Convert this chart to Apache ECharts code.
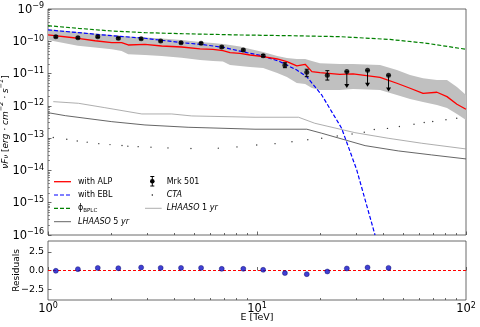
<!DOCTYPE html>
<html>
<head>
<meta charset="utf-8">
<script src="https://cdn.jsdelivr.net/npm/echarts@6/dist/echarts.min.js"></script>
<style>
  html, body { margin: 0; padding: 0; background: #fff; }
  #main { width: 480px; height: 327px; }
</style>
</head>
<body>
<div id="main"></div>
<script>
// Mrk 501 measured points [TeV, erg cm^-2 s^-1]
const mrkE  = [1.09, 1.39, 1.73, 2.17, 2.79, 3.46, 4.33, 5.40, 6.78, 8.60, 10.7, 13.6, 17.3, 21.7];
const mrkF  = [1.39e-10, 1.29e-10, 1.39e-10, 1.24e-10, 1.20e-10, 1.02e-10, 9.06e-11, 8.67e-11, 6.67e-11, 5.38e-11, 3.58e-11, 1.81e-11, 1.10e-11, 8.86e-12];
const mrkLo = [1.30e-10, 1.21e-10, 1.31e-10, 1.17e-10, 1.13e-10, 9.6e-11, 8.5e-11, 8.1e-11, 6.2e-11, 5.0e-11, 3.3e-11, 1.52e-11, 8.0e-12, 6.3e-12];
const mrkHi = [1.48e-10, 1.37e-10, 1.47e-10, 1.31e-10, 1.27e-10, 1.08e-10, 9.6e-11, 9.2e-11, 7.1e-11, 5.8e-11, 3.9e-11, 2.17e-11, 1.36e-11, 1.23e-11];
// upper limits
const ulE = [26.9, 33.8, 42.6];
const ulF = [1.15e-11, 1.26e-11, 8.86e-12];
// residuals, all 17 bins
const resid = [-0.04, 0.18, 0.35, 0.31, 0.40, 0.35, 0.35, 0.35, 0.22, 0.22, 0.09, -0.35, -0.49, -0.13, 0.27, 0.40, 0.35];

// with ALP model and its band
const alpE = [1.0, 1.39, 1.68, 2.02, 2.25, 2.42, 2.91, 3.50, 4.36, 5.34, 6.16, 6.87, 7.43, 8.29, 9.26, 10.7, 12.5, 13.9, 15.5, 17.0, 18.3, 20.0, 24.9, 28.8, 38.8, 46.7, 54.0, 62.3, 72.6, 81.1, 90.5, 100];
const alpF = [1.57e-10, 1.24e-10, 1.04e-10, 9.06e-11, 9.06e-11, 7.68e-11, 8.07e-11, 7.15e-11, 6.66e-11, 5.78e-11, 5.65e-11, 5.12e-11, 4.44e-11, 4.25e-11, 3.76e-11, 3.33e-11, 2.83e-11, 2.33e-11, 1.72e-11, 1.94e-11, 1.15e-11, 1.07e-11, 9.5e-12, 9.72e-12, 7.68e-12, 5.01e-12, 3.51e-12, 2.45e-12, 2.64e-12, 1.93e-12, 1.12e-12, 7.85e-13];
const bandUp = [2.36e-10, 1.94e-10, 1.74e-10, 1.57e-10, 1.46e-10, 1.41e-10, 1.31e-10, 1.22e-10, 1.10e-10, 9.5e-11, 8.85e-11, 8.24e-11, 7.68e-11, 6.9e-11, 5.78e-11, 4.67e-11, 3.51e-11, 3.04e-11, 2.83e-11, 2.83e-11, 2.45e-11, 2.08e-11, 1.98e-11, 1.98e-11, 1.85e-11, 1.29e-11, 9.05e-12, 7.15e-12, 6.34e-12, 6.34e-12, 3.85e-12, 2.17e-12];
const bandLo = [1.10e-10, 7.31e-11, 6.43e-11, 5.65e-11, 5.01e-11, 3.96e-11, 3.77e-11, 3.51e-11, 3.11e-11, 2.64e-11, 2.45e-11, 2.37e-11, 1.85e-11, 1.72e-11, 1.60e-11, 1.49e-11, 1.04e-11, 7.85e-12, 5.12e-12, 4.77e-12, 3.58e-12, 3.10e-12, 3.10e-12, 3.33e-12, 3.10e-12, 2.17e-12, 1.64e-12, 1.32e-12, 1.07e-12, 8.61e-13, 5.61e-13, 3.66e-13];

// with EBL
const eblE = [1.0, 1.40, 2.02, 2.91, 4.36, 5.34, 6.87, 8.96, 10.7, 12.9, 15.5, 17.3, 20.4, 25.4, 30.0, 36.7];
const eblF = [2.25e-10, 1.85e-10, 1.49e-10, 1.24e-10, 9.06e-11, 8.07e-11, 6.52e-11, 4.44e-11, 3.51e-11, 2.33e-11, 1.29e-11, 8.02e-12, 2.17e-12, 2.03e-13, 1.04e-14, 1e-16];

// phi BPLC
const bplcE = [1.0, 1.40, 2.02, 2.91, 4.36, 8.29, 14.4, 24.9, 43.3, 64.9, 100];
const bplcF = [3.04e-10, 2.52e-10, 2.08e-10, 1.85e-10, 1.72e-10, 1.57e-10, 1.49e-10, 1.39e-10, 1.14e-10, 8.67e-11, 5.65e-11];

// LHAASO sensitivities
const lh1E = [1.06, 1.40, 1.87, 2.81, 3.91, 4.87, 9.78, 15.8, 18.9, 29.4, 42.4, 61.4, 100];
const lh1F = [1.35e-12, 1.20e-12, 8.79e-13, 5.61e-13, 5.61e-13, 4.87e-13, 4.44e-13, 4.44e-13, 2.89e-13, 1.48e-13, 9.93e-14, 6.95e-14, 4.63e-14];
const lh5E = [1.0, 1.21, 2.02, 2.91, 4.68, 9.78, 17.3, 20.4, 32.9, 47.4, 68.5, 100];
const lh5F = [6.15e-13, 4.97e-13, 3.24e-13, 2.56e-13, 2.17e-13, 1.89e-13, 1.89e-13, 1.42e-13, 5.86e-14, 4.02e-14, 3.02e-14, 2.27e-14];

// CTA sensitivity dots
const ctaE = [1.06, 1.23, 1.38, 1.54, 1.75, 1.98, 2.26, 2.41, 2.70, 3.11, 3.75, 4.83, 6.53, 8.02, 9.97, 12.2, 14.7, 17.5, 20.4, 24.2, 28.5, 32.6, 36.4, 42.1, 48.0, 56.4, 63.1, 69.3, 80.2, 90.3];
const ctaF = [1.05e-13, 9.25e-14, 8.19e-14, 7.52e-14, 6.76e-14, 6.30e-14, 5.94e-14, 5.65e-14, 5.46e-14, 5.26e-14, 4.98e-14, 4.80e-14, 4.90e-14, 5.35e-14, 6.15e-14, 6.76e-14, 7.74e-14, 8.91e-14, 9.93e-14, 1.17e-13, 1.35e-13, 1.53e-13, 1.86e-13, 2.00e-13, 2.30e-13, 2.69e-13, 3.06e-13, 3.29e-13, 3.72e-13, 4.13e-13];

const FONT = 'DejaVu Sans';
const zip = (a, b) => a.map((v, i) => [v, b[i]]);

// tick positions
const xMajor = [1, 10, 100];
const xMinor = [];
[1, 10].forEach(d => { for (let k = 2; k <= 9; k++) xMinor.push(k * d); });
const yMajor = [];
const yMinor = [];
for (let e = -16; e <= -9; e++) {
  yMajor.push(Math.pow(10, e));
  if (e < -9) for (let k = 2; k <= 9; k++) yMinor.push(k * Math.pow(10, e));
}

const supRich = {
  b: { fontSize: 11.5, fontFamily: FONT, color: '#000', verticalAlign: 'bottom', lineHeight: 12 },
  s: { fontSize: 8, fontFamily: FONT, color: '#000', verticalAlign: 'bottom', padding: [0, 0, 5.5, 0] }
};
function powLabel(v) {
  const e = Math.round(Math.log10(v));
  return '{b|10}{s|' + (e < 0 ? '\u2212' + (-e) : e) + '}';
}

const topGrid = { left: 48, top: 9, width: 418, height: 226, show: true, borderColor: '#444', borderWidth: 0.8, outerBoundsMode: 'none' };
const botGrid = { left: 48, top: 241, width: 418, height: 59, show: true, borderColor: '#444', borderWidth: 0.8, outerBoundsMode: 'none' };

function logX(grid, minor, labels) {
  return {
    type: 'log', logBase: 10, gridIndex: grid, min: 1, max: 100, position: 'bottom',
    axisLine: { show: false }, splitLine: { show: false },
    axisTick: { show: true, inside: true, length: minor ? 2 : 3.5, lineStyle: { color: '#444', width: 0.8 }, customValues: minor ? xMinor : xMajor },
    axisLabel: labels ? { show: true, margin: 2, formatter: powLabel, rich: supRich, customValues: xMajor } : { show: false }
  };
}

const errRender = function (params, api) {
  const x = api.value(0);
  const lo = api.coord([x, api.value(1)]);
  const hi = api.coord([x, api.value(2)]);
  const s = { stroke: '#000', lineWidth: 1 };
  return { type: 'group', children: [
    { type: 'line', shape: { x1: lo[0], y1: lo[1], x2: hi[0], y2: hi[1] }, style: s },
    { type: 'line', shape: { x1: lo[0] - 2, y1: lo[1], x2: lo[0] + 2, y2: lo[1] }, style: s },
    { type: 'line', shape: { x1: hi[0] - 2, y1: hi[1], x2: hi[0] + 2, y2: hi[1] }, style: s }
  ] };
};

const ulRender = function (params, api) {
  const x = api.value(0), f = api.value(1);
  const t = api.coord([x, f]);
  const b = api.coord([x, f / 3.2]);
  const s = { stroke: '#000', lineWidth: 1 };
  return { type: 'group', children: [
    { type: 'line', shape: { x1: t[0], y1: t[1], x2: b[0], y2: b[1] - 3 }, style: s },
    { type: 'line', shape: { x1: t[0] - 2, y1: t[1], x2: t[0] + 2, y2: t[1] }, style: s },
    { type: 'polygon', shape: { points: [[b[0] - 2.5, b[1] - 4], [b[0] + 2.5, b[1] - 4], [b[0], b[1]]] }, style: { fill: '#000' } }
  ] };
};

const bandRender = function (params, api) {
  if (params.dataIndex !== 0) return null;
  const pts = [];
  for (let i = 0; i < alpE.length; i++) pts.push(api.coord([alpE[i], bandUp[i]]));
  for (let i = alpE.length - 1; i >= 0; i--) pts.push(api.coord([alpE[i], bandLo[i]]));
  return { type: 'polygon', shape: { points: pts }, style: { fill: '#c0c0c0' } };
};

const chart = echarts.init(document.getElementById('main'), null, { renderer: 'canvas' });

const legendText = { fontSize: 8, fontFamily: FONT, fill: '#000', verticalAlign: 'middle' };
const legRich = {
  n: { fontSize: 8, fontFamily: FONT },
  i: { fontSize: 8, fontFamily: FONT, fontStyle: 'italic' },
  sub: { fontSize: 5.5, fontFamily: FONT, verticalAlign: 'bottom', padding: [4, 0, 0, 0] }
};
function legLine(x1, x2, y, color, dash, w) {
  return { type: 'line', shape: { x1: x1, y1: y, x2: x2, y2: y }, style: { stroke: color, lineWidth: w, lineDash: dash } };
}
function legTxt(x, y, text) {
  return { type: 'text', x: x, y: y, style: Object.assign({ text: text, rich: legRich }, legendText) };
}

chart.setOption({
  animation: false,
  backgroundColor: '#fff',
  grid: [topGrid, botGrid],
  xAxis: [logX(0, false, false), logX(0, true, false), Object.assign(logX(1, false, true), {
    name: 'E [TeV]', nameLocation: 'middle', nameGap: 13, nameMoveOverlap: false,
    nameTextStyle: { fontSize: 9.5, fontFamily: FONT, color: '#000' }
  }), logX(1, true, false)],
  yAxis: [
    {
      type: 'log', logBase: 10, gridIndex: 0, min: 1e-16, max: 1e-9, position: 'left',
      axisLine: { show: false }, splitLine: { show: false },
      axisTick: { show: true, inside: true, length: 3.5, lineStyle: { color: '#444', width: 0.8 }, customValues: yMajor },
      axisLabel: { show: true, margin: 4, formatter: powLabel, rich: supRich, customValues: yMajor },
      name: '{i|\u03bdF}{sb|\u03bd}{n| [}{i|erg \u00b7 cm}{sp|\u22122}{i| \u00b7 s}{sp|\u22121}{n|]}',
      nameLocation: 'middle', nameGap: 38, nameRotate: 90, nameMoveOverlap: false,
      nameTextStyle: {
        fontSize: 9, fontFamily: FONT, color: '#000',
        rich: {
          i: { fontSize: 9, fontFamily: FONT, fontStyle: 'italic', verticalAlign: 'bottom', lineHeight: 11 },
          n: { fontSize: 9, fontFamily: FONT, verticalAlign: 'bottom', lineHeight: 11 },
          sb: { fontSize: 6.5, fontFamily: FONT, fontStyle: 'italic', verticalAlign: 'bottom', lineHeight: 9 },
          sp: { fontSize: 6.5, fontFamily: FONT, fontStyle: 'italic', verticalAlign: 'bottom', padding: [0, 0, 5, 0] }
        }
      }
    },
    {
      type: 'log', logBase: 10, gridIndex: 0, min: 1e-16, max: 1e-9, position: 'left',
      axisLine: { show: false }, splitLine: { show: false },
      axisTick: { show: true, inside: true, length: 2, lineStyle: { color: '#444', width: 0.6 }, customValues: yMinor },
      axisLabel: { show: false }
    },
    {
      type: 'value', gridIndex: 1, min: -3.95, max: 3.95, position: 'left',
      axisLine: { show: false }, splitLine: { show: false },
      axisTick: { show: true, inside: true, length: 3.5, lineStyle: { color: '#444', width: 0.8 }, customValues: [-2.5, 0, 2.5] },
      axisLabel: {
        show: true, margin: 4, fontSize: 9.5, fontFamily: FONT, color: '#000', customValues: [-2.5, 0, 2.5],
        formatter: v => v.toFixed(1).replace('-', '\u2212')
      },
      name: 'Residuals', nameLocation: 'middle', nameGap: 27, nameRotate: 90, nameMoveOverlap: false,
      nameTextStyle: { fontSize: 9, fontFamily: FONT, color: '#000' }
    }
  ],
  series: [
    {
      type: 'custom', name: 'band', xAxisIndex: 0, yAxisIndex: 0, z: 1,
      renderItem: bandRender, encode: { x: 0, y: 1 },
      data: zip(alpE, alpF)
    },
    {
      type: 'line', name: 'LHAASO 5 yr', xAxisIndex: 0, yAxisIndex: 0, showSymbol: false, z: 3,
      lineStyle: { color: '#555', width: 0.9 }, data: zip(lh5E, lh5F)
    },
    {
      type: 'line', name: 'LHAASO 1 yr', xAxisIndex: 0, yAxisIndex: 0, showSymbol: false, z: 3,
      lineStyle: { color: '#999', width: 0.8 }, data: zip(lh1E, lh1F)
    },
    {
      type: 'scatter', name: 'CTA', xAxisIndex: 0, yAxisIndex: 0, symbolSize: 1.4, z: 3,
      itemStyle: { color: '#000' }, data: zip(ctaE, ctaF)
    },
    {
      type: 'line', name: 'phi BPLC', xAxisIndex: 0, yAxisIndex: 0, showSymbol: false, z: 4,
      lineStyle: { color: '#008000', width: 1.2, type: [4, 2] }, data: zip(bplcE, bplcF)
    },
    {
      type: 'line', name: 'with EBL', xAxisIndex: 0, yAxisIndex: 0, showSymbol: false, z: 4,
      lineStyle: { color: '#0000ff', width: 1.2, type: [4, 2] }, data: zip(eblE, eblF)
    },
    {
      type: 'line', name: 'with ALP', xAxisIndex: 0, yAxisIndex: 0, showSymbol: false, z: 5,
      lineStyle: { color: '#ff0000', width: 1.3 }, data: zip(alpE, alpF)
    },
    {
      type: 'custom', name: 'err', xAxisIndex: 0, yAxisIndex: 0, z: 6,
      renderItem: errRender, encode: { x: 0, y: 1 },
      data: mrkE.map((e, i) => [e, mrkLo[i], mrkHi[i]])
    },
    {
      type: 'custom', name: 'ul', xAxisIndex: 0, yAxisIndex: 0, z: 6,
      renderItem: ulRender, encode: { x: 0, y: 1 },
      data: zip(ulE, ulF)
    },
    {
      type: 'scatter', name: 'Mrk 501', xAxisIndex: 0, yAxisIndex: 0, symbolSize: 5, z: 7,
      itemStyle: { color: '#000' }, data: zip(mrkE, mrkF).concat(zip(ulE, ulF))
    },
    {
      type: 'line', name: 'zero', xAxisIndex: 2, yAxisIndex: 2, showSymbol: false, z: 3,
      lineStyle: { color: '#ff0000', width: 1, type: [3, 2] }, data: [[1, 0], [100, 0]]
    },
    {
      type: 'scatter', name: 'resid', xAxisIndex: 2, yAxisIndex: 2, symbolSize: 5, z: 5,
      itemStyle: { color: '#1010c8', borderColor: '#000060', borderWidth: 0.5 },
      data: zip(mrkE.concat(ulE), resid)
    }
  ],
  graphic: [
    legLine(54, 71, 181.7, '#ff0000', null, 1.3), legTxt(78, 181.7, 'with ALP'),
    legLine(54, 71, 195, '#0000ff', [4, 2], 1.2), legTxt(78, 195, 'with EBL'),
    legLine(54, 71, 208.3, '#008000', [4, 2], 1.2), legTxt(78, 208.3, '{n|\u03d5}{sub|BPLC}'),
    legLine(54, 71, 221.7, '#555', null, 0.9), legTxt(78, 221.7, '{i|LHAASO}{n| 5 }{i|yr}'),
    legLine(150.3, 154.3, 176.5, '#000', null, 1),
    legLine(150.3, 154.3, 186, '#000', null, 1),
    { type: 'circle', shape: { cx: 152.3, cy: 181.3, r: 2.3 }, style: { fill: '#000' } },
    { type: 'line', shape: { x1: 152.3, y1: 176.5, x2: 152.3, y2: 186 }, style: { stroke: '#000', lineWidth: 1 } },
    legTxt(166.7, 181.7, 'Mrk 501'),
    { type: 'circle', shape: { cx: 152.3, cy: 195, r: 0.7 }, style: { fill: '#000' } },
    legTxt(166.7, 195, '{i|CTA}'),
    legLine(145, 161.7, 208.3, '#999', null, 0.8), legTxt(166.7, 208.3, '{i|LHAASO}{n| 1 }{i|yr}')
  ]
});
</script>
</body>
</html>
